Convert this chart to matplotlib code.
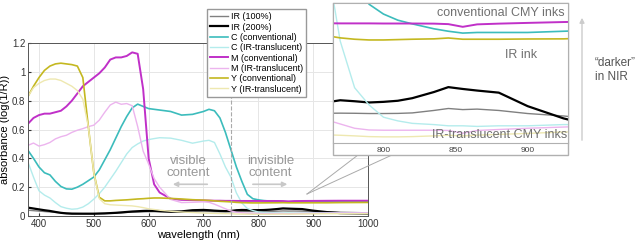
import numpy as np
import matplotlib.pyplot as plt
from matplotlib.patches import Rectangle
from matplotlib.lines import Line2D

plt.rcParams['font.family'] = ['Liberation Sans', 'DejaVu Sans']

# wavelength grid (nm)
wl = [380, 390, 400, 410, 420, 430, 440, 450, 460, 470, 480, 490, 500, 510, 520,
      530, 540, 550, 560, 570, 580, 590, 600, 610, 620, 640, 660, 680, 700, 710,
      720, 730, 740, 750, 760, 770, 780, 790, 800, 810, 820, 835, 845, 855, 865,
      880, 900, 925, 950, 1000]

ir100 = [.040, .037, .034, .031, .028, .025, .022, .020, .018, .017, .016, .016, .016, .017, .018,
         .019, .020, .022, .025, .027, .028, .029, .030, .030, .029, .027, .028, .030, .031, .031,
         .030, .030, .030, .030, .0312, .0313, .0312, .031, .031, .0311, .0315, .0335, .0351, .0342, .0346,
         .0335, .031, .029, .026, .022]
ir200 = [.058, .052, .046, .040, .035, .028, .022, .018, .016, .016, .016, .016, .016, .017, .018,
         .020, .022, .025, .028, .031, .033, .035, .036, .036, .034, .030, .032, .040, .042, .040,
         .037, .035, .034, .035, .040, .0418, .041, .040, .0405, .0414, .0435, .0485, .0525, .051, .0497,
         .048, .037, .027, .020, .017]
c_conv = [.455, .40, .34, .30, .285, .24, .205, .188, .186, .20, .22, .245, .27, .32, .39,
          .46, .54, .62, .69, .75, .776, .76, .745, .74, .735, .725, .70, .705, .725, .74,
          .73, .68, .58, .46, .34, .24, .15, .12, .112, .107, .104, .100, .098, .0965, .097,
          .097, .097, .098, .099, .100]
c_irt = [.373, .27, .175, .145, .125, .093, .065, .054, .047, .05, .062, .085, .117, .155, .20,
         .255, .31, .37, .43, .475, .50, .52, .53, .537, .543, .54, .525, .505, .52, .525,
         .51, .43, .34, .27, .16, .09, .052, .038, .028, .025, .023, .022, .021, .021, .0205,
         .021, .021, .022, .022, .022]
m_conv = [.64, .68, .70, .71, .71, .72, .73, .76, .80, .85, .90, .93, .96, .99, 1.03,
          1.085, 1.10, 1.10, 1.11, 1.135, 1.125, .88, .40, .22, .163, .12, .112, .110, .108, .107,
          .106, .106, .105, .105, .1045, .1044, .1044, .1044, .1043, .1043, .1043, .1042, .1038, .1016, .1036,
          .1042, .1048, .1055, .106, .106]
m_irt = [.49, .506, .485, .495, .51, .535, .55, .56, .58, .595, .606, .62, .63, .665, .72,
         .77, .79, .775, .78, .765, .62, .45, .36, .26, .20, .115, .093, .095, .098, .095,
         .082, .066, .050, .035, .026, .0225, .019, .0176, .0174, .0174, .0174, .0174, .0172, .015, .0172,
         .018, .019, .020, .021, .022]
y_conv = [.83, .90, .96, 1.01, 1.04, 1.055, 1.06, 1.055, 1.05, 1.04, .96, .62, .30, .13, .105,
          .105, .108, .11, .112, .115, .118, .12, .123, .125, .125, .122, .118, .113, .11, .108,
          .105, .102, .10, .098, .0945, .0926, .0915, .0909, .0909, .0912, .0915, .0918, .0925, .0915, .0915,
          .0915, .0917, .0918, .093, .094]
y_irt = [.83, .89, .92, .94, .95, .95, .94, .92, .90, .87, .81, .62, .30, .12, .085,
         .078, .076, .074, .072, .070, .065, .058, .050, .045, .040, .033, .028, .024, .020, .019,
         .018, .017, .0165, .016, .0137, .0133, .0128, .0122, .012, .012, .0122, .0128, .0133, .0128, .0134,
         .014, .0148, .016, .016, .016]

series = [
    (ir100, 'IR (100%)', '#808080', 1.0),
    (ir200, 'IR (200%)', '#000000', 1.6),
    (c_conv, 'C (conventional)', '#3cbcbc', 1.2),
    (c_irt, 'C (IR-translucent)', '#b4ecec', 1.0),
    (m_conv, 'M (conventional)', '#c030c8', 1.4),
    (m_irt, 'M (IR-translucent)', '#ecb4ee', 1.0),
    (y_conv, 'Y (conventional)', '#c4b820', 1.2),
    (y_irt, 'Y (IR-translucent)', '#eee8b0', 1.0),
]

fig = plt.figure(figsize=(6.4, 2.42), dpi=100)

# main plot
ax = fig.add_axes([28/640, 26/242, 340/640, 173/242])
ax.set_zorder(0)
for vals, lab, col, lw in series:
    ax.plot(wl, vals, color=col, lw=lw, label=lab)
ax.axvline(750, color='#aaaaaa', ls='--', lw=0.8)
ax.set_xlim(380, 1000)
ax.set_ylim(0, 1.2)
ax.set_xticks([400, 500, 600, 700, 800, 900, 1000])
ax.set_yticks([0, 0.2, 0.4, 0.6, 0.8, 1.0, 1.2])
ax.set_yticklabels(['0', '0.2', '0.4', '0.6', '0.8', '1', '1.2'])
ax.grid(True, color='#e6e6e6', lw=0.7)
ax.set_axisbelow(True)
ax.tick_params(direction='in', length=2.5, labelsize=7, colors='#333333', pad=2)
for s in ax.spines.values():
    s.set_color('#555555')
    s.set_linewidth(0.7)
ax.set_xlabel('wavelength (nm)', fontsize=8, labelpad=1)
ax.set_ylabel('absorbance (log(1/R))', fontsize=8, labelpad=1)

ax.text(672, 0.34, 'visible\ncontent', ha='center', va='center', fontsize=9.5,
        color='#999999', linespacing=1.1)
ax.text(822, 0.34, 'invisible\ncontent', ha='center', va='center', fontsize=9.5,
        color='#999999', linespacing=1.1)
ax.annotate('', xy=(639, 0.22), xytext=(712, 0.22),
            arrowprops=dict(arrowstyle='-|>', color='#c8c8c8', lw=1.2, mutation_scale=7))
ax.annotate('', xy=(858, 0.22), xytext=(785, 0.22),
            arrowprops=dict(arrowstyle='-|>', color='#c8c8c8', lw=1.2, mutation_scale=7))

fig.legend(loc='upper left', bbox_to_anchor=(207/640, 1 - 9/242), borderaxespad=0,
           fontsize=6.5, handlelength=2.0, handletextpad=0.3, labelspacing=0.15,
           borderpad=0.35, fancybox=False, edgecolor='#999999', framealpha=1)

# zoom box
fig.patches.append(Rectangle((333/640, 87/242), 235/640, 152/242, transform=fig.transFigure,
                             facecolor='white', edgecolor='#b0b0b0', lw=1.0, zorder=2))
for x2 in [358, 392]:
    fig.lines.append(Line2D([307/640, x2/640], [48/242, 87/242], transform=fig.transFigure,
                            color='#aaaaaa', lw=0.7, zorder=1))

axi = fig.add_axes([333/640, 99/242, 235/640, 140/242])
axi.set_zorder(3)
for vals, lab, col, lw in series:
    axi.plot(wl, vals, color=col, lw=lw)
axi.set_xlim(765, 928)
axi.set_ylim(0.007, 0.121)
axi.set_xticks([800, 850, 900])
axi.set_yticks([])
axi.tick_params(length=0, labelsize=6, colors='#444444', pad=3)
for s in axi.spines.values():
    s.set_color('#b0b0b0')
    s.set_linewidth(0.8)
axi.text(0.985, 0.93, 'conventional CMY inks', transform=axi.transAxes, ha='right',
         va='center', fontsize=9, color='#707070')
axi.text(0.80, 0.63, 'IR ink', transform=axi.transAxes, ha='center',
         va='center', fontsize=9, color='#707070')
axi.text(0.995, 0.06, 'IR-translucent CMY inks', transform=axi.transAxes, ha='right',
         va='center', fontsize=9, color='#707070')

# "darker" arrow on the right
fig.text(595/640, 1 - 70/242, '\u201cdarker\u201d\nin NIR', ha='left', va='center',
         fontsize=8.5, color='#555555', linespacing=1.15)
arrow_ax = fig.add_axes([0, 0, 1, 1], facecolor='none')
arrow_ax.set_axis_off()
arrow_ax.annotate('', xy=(582/640, 1 - 15/242), xytext=(582/640, 1 - 143/242),
                  xycoords='axes fraction',
                  arrowprops=dict(arrowstyle='-|>', color='#cccccc', lw=1.0, mutation_scale=7))

fig.savefig('out.png', dpi=100)
